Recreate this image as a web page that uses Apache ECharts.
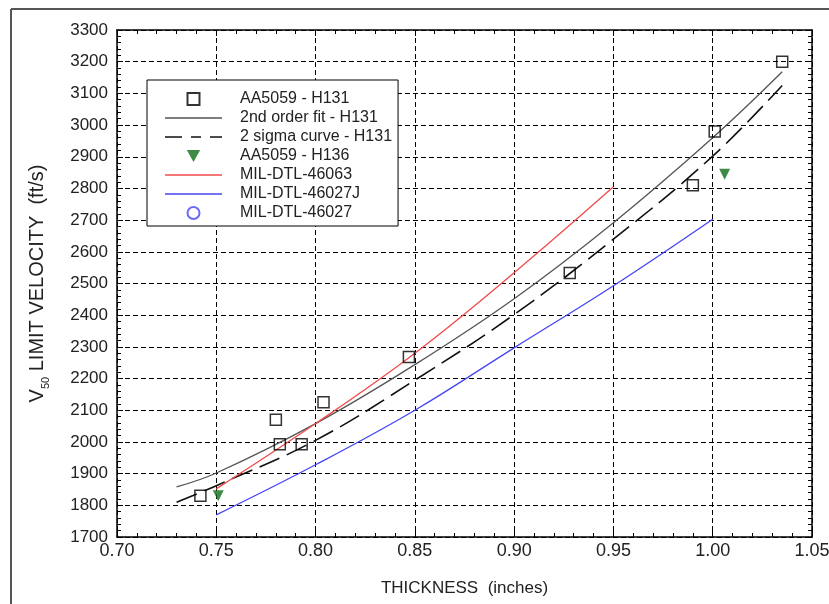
<!DOCTYPE html>
<html>
<head>
<meta charset="utf-8">
<style>
    html, body { margin: 0; padding: 0; background: #fff; }
    #chart { width: 829px; height: 604px; }
</style>
<script src="https://cdn.jsdelivr.net/npm/echarts@6/dist/echarts.min.js"></script>
</head>
<body>
<div id="chart"></div>
<script>
// measured points, thickness (in) / velocity (ft/s)
var h131Pts = [[0.742, 1830], [0.780, 2070], [0.782, 1993], [0.793, 1993], [0.804, 2125],
               [0.847, 2268], [0.928, 2533], [0.990, 2810], [1.001, 2980], [1.035, 3200]];
var h136Pts = [[0.751, 1830], [1.006, 2845]];
var mil46027Pts = [];

// curves
var fitX = [0.73, 0.75, 0.80, 0.85, 0.90, 0.95, 1.00, 1.035];
var fitY = [1858, 1902, 2058, 2244, 2452, 2692, 2960, 3168];
var sigmaX = [0.73, 0.75, 0.80, 0.85, 0.90, 0.95, 1.00, 1.035];
var sigmaY = [1810, 1862, 2005, 2195, 2402, 2640, 2902, 3125];
var m46063X = [0.75, 0.80, 0.85, 0.90, 0.95];
var m46063Y = [1852, 2058, 2280, 2534, 2805];
var m46027jX = [0.75, 0.80, 0.85, 0.90, 0.95, 1.00];
var m46027jY = [1770, 1928, 2100, 2297, 2493, 2703];

var names = ['AA5059 - H131', '2nd order fit - H131', '2 sigma curve - H131', 'AA5059 - H136',
             'MIL-DTL-46063', 'MIL-DTL-46027J', 'MIL-DTL-46027'];

function pairs(xs, ys) {
    return xs.map(function (x, i) { return [x, ys[i]]; });
}

var font = 'Liberation Sans, Arial, sans-serif';
var gridDash = { color: '#000', width: 1, type: [5, 3] };

// legend glyphs
var iconSolid = 'path://M0,0h57v1.4h-57z';
var iconDash = 'path://M0,0h17v1.6h-17z M26,0h10v1.6h-10z M45,0h12v1.6h-12z';
var iconSquare = 'path://M0,0h10v10h-10z';
var iconTri = 'path://M0,0L10,0L5,9z';

var chart = echarts.init(document.getElementById('chart'));
chart.setOption({
    animation: false,
    backgroundColor: '#fff',
    textStyle: { fontFamily: font },
    graphic: [
        { type: 'line', shape: { x1: 11, y1: 9, x2: 829, y2: 9 }, style: { stroke: '#555', lineWidth: 2 } },
        { type: 'line', shape: { x1: 11, y1: 9, x2: 11, y2: 604 }, style: { stroke: '#555', lineWidth: 2 } }
    ],
    grid: { left: 117, right: 17, top: 30, bottom: 67, show: false, outerBoundsMode: 'none' },
    legend: {
        orient: 'vertical',
        left: 147,
        top: 80,
        itemWidth: 57,
        itemHeight: 12,
        itemGap: 3,
        padding: [11, 6, 5, 18],
        borderColor: '#000',
        borderWidth: 1,
        backgroundColor: '#fff',
        data: [
            { name: names[0], icon: iconSquare },
            { name: names[1], icon: iconSolid },
            { name: names[2], icon: iconDash },
            { name: names[3], icon: iconTri },
            { name: names[4], icon: iconSolid },
            { name: names[5], icon: iconSolid },
            { name: names[6], icon: 'circle' }
        ],
        textStyle: { fontSize: 16, lineHeight: 16, color: '#222', fontFamily: font, padding: [0, 0, 0, 13] }
    },
    xAxis: [{
        type: 'value', min: 0.70, max: 1.05, interval: 0.05,
        name: 'THICKNESS  (inches)', nameLocation: 'middle', nameGap: 43,
        nameTextStyle: { fontSize: 17, color: '#222' },
        axisLine: { onZero: false, lineStyle: { color: '#000', width: 1.5 } },
        axisTick: { inside: true, length: 6, lineStyle: { color: '#000' } },
        minorTick: { show: true, splitNumber: 5, length: 4, lineStyle: { color: '#000' } },
        axisLabel: { fontSize: 18, color: '#222', margin: 5, formatter: function (v) { return v.toFixed(2); } },
        splitLine: { show: true, lineStyle: gridDash }
    }, {
        type: 'value', position: 'top', min: 0.70, max: 1.05, interval: 0.05,
        axisLine: { onZero: false, lineStyle: { color: '#000', width: 1.5 } },
        axisTick: { inside: true, length: 6, lineStyle: { color: '#000' } },
        minorTick: { show: true, splitNumber: 5, length: 4, lineStyle: { color: '#000' } },
        axisLabel: { show: false },
        splitLine: { show: false }
    }],
    yAxis: [{
        type: 'value', min: 1700, max: 3300, interval: 100,
        name: '{a|V}{s|50}{a| LIMIT VELOCITY  (ft/s)}',
        nameLocation: 'middle', nameGap: 66, nameRotate: 90,
        nameTextStyle: {
            rich: {
                a: { fontSize: 20, color: '#222', lineHeight: 22, verticalAlign: 'middle', fontFamily: font },
                s: { fontSize: 11, color: '#222', lineHeight: 28, verticalAlign: 'bottom', fontFamily: font }
            }
        },
        axisLine: { onZero: false, lineStyle: { color: '#000', width: 1.5 } },
        axisTick: { inside: true, length: 6, lineStyle: { color: '#000' } },
        minorTick: { show: true, splitNumber: 5, length: 4, lineStyle: { color: '#000' } },
        axisLabel: { fontSize: 17, color: '#222', margin: 9, formatter: function (v) { return String(v); } },
        splitLine: { show: true, lineStyle: gridDash }
    }, {
        type: 'value', position: 'right', min: 1700, max: 3300, interval: 100,
        axisLine: { onZero: false, lineStyle: { color: '#000', width: 1.5 } },
        axisTick: { inside: true, length: 6, lineStyle: { color: '#000' } },
        minorTick: { show: true, splitNumber: 5, length: 4, lineStyle: { color: '#000' } },
        axisLabel: { show: false },
        splitLine: { show: false }
    }],
    series: [
        {
            name: names[0], type: 'scatter', data: h131Pts,
            symbol: 'rect', symbolSize: 11,
            itemStyle: { color: 'transparent', borderColor: '#000', borderWidth: 1.5 },
            z: 5
        },
        {
            name: names[1], type: 'line', data: pairs(fitX, fitY), smooth: 0.4,
            showSymbol: false, symbol: 'none',
            lineStyle: { color: '#555', width: 1.3 }, itemStyle: { color: '#555' }
        },
        {
            name: names[2], type: 'line', data: pairs(sigmaX, sigmaY), smooth: 0.4,
            showSymbol: false, symbol: 'none',
            lineStyle: { color: '#111', width: 1.6, type: [22, 8] }, itemStyle: { color: '#111' }
        },
        {
            name: names[3], type: 'scatter', data: h136Pts,
            symbol: 'triangle', symbolRotate: 180, symbolSize: 11,
            itemStyle: { color: '#0f6e16' }, z: 5
        },
        {
            name: names[4], type: 'line', data: pairs(m46063X, m46063Y), smooth: 0.4,
            showSymbol: false, symbol: 'none',
            lineStyle: { color: '#f24a4a', width: 1.3 }, itemStyle: { color: '#f24a4a' }
        },
        {
            name: names[5], type: 'line', data: pairs(m46027jX, m46027jY), smooth: 0.4,
            showSymbol: false, symbol: 'none',
            lineStyle: { color: '#4545f5', width: 1.3 }, itemStyle: { color: '#4545f5' }
        },
        {
            name: names[6], type: 'scatter', data: mil46027Pts,
            symbol: 'circle', symbolSize: 11,
            itemStyle: { color: 'transparent', borderColor: '#4545f5', borderWidth: 1.3 }
        }
    ]
});
</script>
</body>
</html>
